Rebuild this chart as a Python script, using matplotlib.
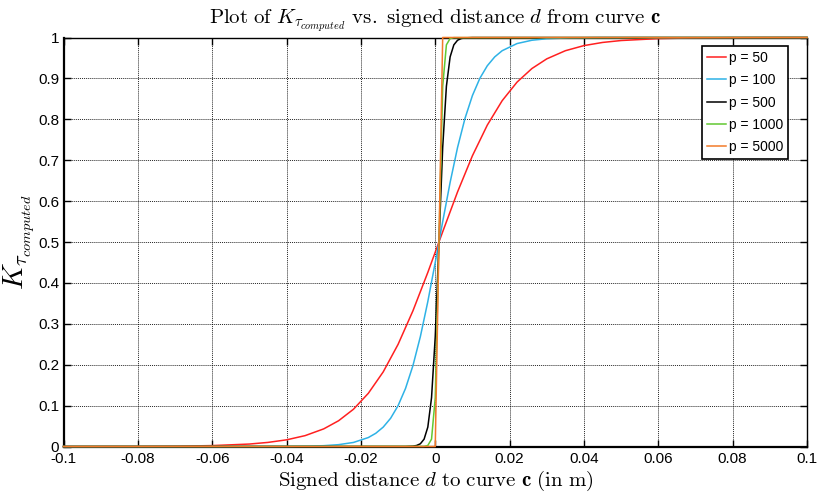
import matplotlib
matplotlib.use("Agg")
import matplotlib.pyplot as plt
from matplotlib import font_manager

# ---- data ----
d_p50 = [-0.1, -0.09, -0.08, -0.07, -0.06, -0.05, -0.045, -0.04, -0.035, -0.03,
         -0.026, -0.022, -0.018, -0.014, -0.01, -0.006, -0.002, 0.002, 0.006,
         0.01, 0.014, 0.018, 0.022, 0.026, 0.03, 0.035, 0.04, 0.045, 0.05,
         0.06, 0.07, 0.08, 0.09, 0.1]
k_p50 = [0.0000, 0.0001, 0.0003, 0.0008, 0.0022, 0.0060, 0.0100, 0.0163, 0.0266,
         0.0431, 0.0630, 0.0911, 0.1301, 0.1824, 0.2497, 0.3318, 0.4256, 0.5250,
         0.6225, 0.7109, 0.7858, 0.8455, 0.8909, 0.9241, 0.9478, 0.9677, 0.9802,
         0.9879, 0.9926, 0.9973, 0.9990, 0.9996, 0.9999, 1.0000]

d_p100 = [-0.1, -0.06, -0.04, -0.034, -0.03, -0.026, -0.022, -0.018, -0.016,
          -0.014, -0.012, -0.01, -0.008, -0.006, -0.004, -0.002, 0.0, 0.002,
          0.004, 0.006, 0.008, 0.01, 0.012, 0.014, 0.016, 0.018, 0.022, 0.026,
          0.03, 0.036, 0.044, 0.06, 0.1]
k_p100 = [0.0, 0.0, 0.0003, 0.0009, 0.0020, 0.0045, 0.0099, 0.0219, 0.0323,
          0.0474, 0.0691, 0.0998, 0.1419, 0.1978, 0.2689, 0.3543, 0.4502, 0.5498,
          0.6457, 0.7311, 0.8022, 0.8581, 0.9002, 0.9309, 0.9526, 0.9677, 0.9852,
          0.9933, 0.9970, 0.9991, 0.9998, 1.0, 1.0]

d_p500 = [-0.1, -0.008, -0.006, -0.005, -0.004, -0.003, -0.002, -0.001, 0.0,
          0.001, 0.002, 0.003, 0.004, 0.005, 0.006, 0.007, 0.008, 0.01, 0.1]
k_p500 = [0.0, 0.0001, 0.0009, 0.0025, 0.0067, 0.0180, 0.0474, 0.1192, 0.2689,
          0.5, 0.7311, 0.8808, 0.9526, 0.9820, 0.9933, 0.9975, 0.9991, 0.9999, 1.0]

d_p1000 = [-0.1, -0.003, -0.002, -0.001, 0.0, 0.001, 0.002, 0.003, 0.004, 0.005, 0.1]
k_p1000 = [0.0, 0.0003, 0.0025, 0.0180, 0.1192, 0.5, 0.8808, 0.9820, 0.9975, 0.9997, 1.0]

d_p5000 = [-0.1, -0.001, 0.0, 0.001, 0.002, 0.003, 0.1]
k_p5000 = [0.0, 0.0, 0.0, 0.5, 1.0, 1.0, 1.0]

labels = ["p = 50", "p = 100", "p = 500", "p = 1000", "p = 5000"]
colors = ["#ff2020", "#2eb2e6", "#000000", "#62c832", "#f27a2a"]

x_ticks = [-0.1, -0.08, -0.06, -0.04, -0.02, 0, 0.02, 0.04, 0.06, 0.08, 0.1]
x_ticklabels = ["-0.1", "-0.08", "-0.06", "-0.04", "-0.02", "0", "0.02", "0.04",
                "0.06", "0.08", "0.1"]
y_ticks = [0, 0.1, 0.2, 0.3, 0.4, 0.5, 0.6, 0.7, 0.8, 0.9, 1]
y_ticklabels = ["0", "0.1", "0.2", "0.3", "0.4", "0.5", "0.6", "0.7", "0.8", "0.9", "1"]

# ---- style ----
names = {f.name for f in font_manager.fontManager.ttflist}
if "Liberation Sans Narrow" in names:
    tick_font, tick_size, leg_size = "Liberation Sans Narrow", 12, 11
else:
    tick_font, tick_size, leg_size = "Liberation Sans", 11, 10
plt.rcParams["mathtext.fontset"] = "cm"

fig = plt.figure(figsize=(8.18, 4.95), dpi=100)
ax = fig.add_axes([63.5 / 818, 48.5 / 495, (807 - 63.5) / 818, (446.5 - 37.5) / 495])

series = [(d_p50, k_p50), (d_p100, k_p100), (d_p500, k_p500),
          (d_p1000, k_p1000), (d_p5000, k_p5000)]
for (dd, kk), lab, col in zip(series, labels, colors):
    ax.plot(dd, kk, color=col, lw=1.1, label=lab, clip_on=False, zorder=3)

ax.set_xlim(-0.1, 0.1)
ax.set_ylim(0, 1)
ax.set_xticks(x_ticks)
ax.set_xticklabels(x_ticklabels)
ax.set_yticks(y_ticks)
ax.set_yticklabels(y_ticklabels)
for lbl in ax.get_xticklabels() + ax.get_yticklabels():
    lbl.set_fontfamily(tick_font)
    lbl.set_fontsize(tick_size)
ax.tick_params(direction="in", length=5, width=1, top=True, right=True,
               pad=3, colors="black")
ax.tick_params(axis="x", pad=4)

ax.grid(True, color="black", linestyle=(0, (1, 1)), linewidth=0.7, alpha=0.85)
ax.set_axisbelow(True)
for side in ["left", "bottom"]:
    ax.spines[side].set_linewidth(1.6)
for side in ["top", "right"]:
    ax.spines[side].set_linewidth(1.0)

ax.set_title(r"$\mathrm{Plot\ of\ }K_{\tau_{computed}}\mathrm{\ vs.\ signed\ distance\ }d\mathrm{\ from\ curve\ }\mathbf{c}$",
             fontsize=15, pad=10)
ax.set_xlabel(r"$\mathrm{Signed\ distance\ }d\mathrm{\ to\ curve\ }\mathbf{c}\mathrm{\ (in\ m)}$",
              fontsize=15, labelpad=2)
ax.set_ylabel(r"$K_{\tau_{computed}}$", fontsize=21)
ax.yaxis.set_label_coords(-0.035, 0.5)

leg = ax.legend(loc="upper right", bbox_to_anchor=(0.975, 0.979),
                prop={"family": tick_font, "size": leg_size}, frameon=True, fancybox=False,
                edgecolor="black", framealpha=1, handlelength=1.4, handletextpad=0.2,
                borderpad=0.35, labelspacing=0.6, borderaxespad=0)
leg.get_frame().set_linewidth(1.2)

fig.savefig("out.png", dpi=100)
